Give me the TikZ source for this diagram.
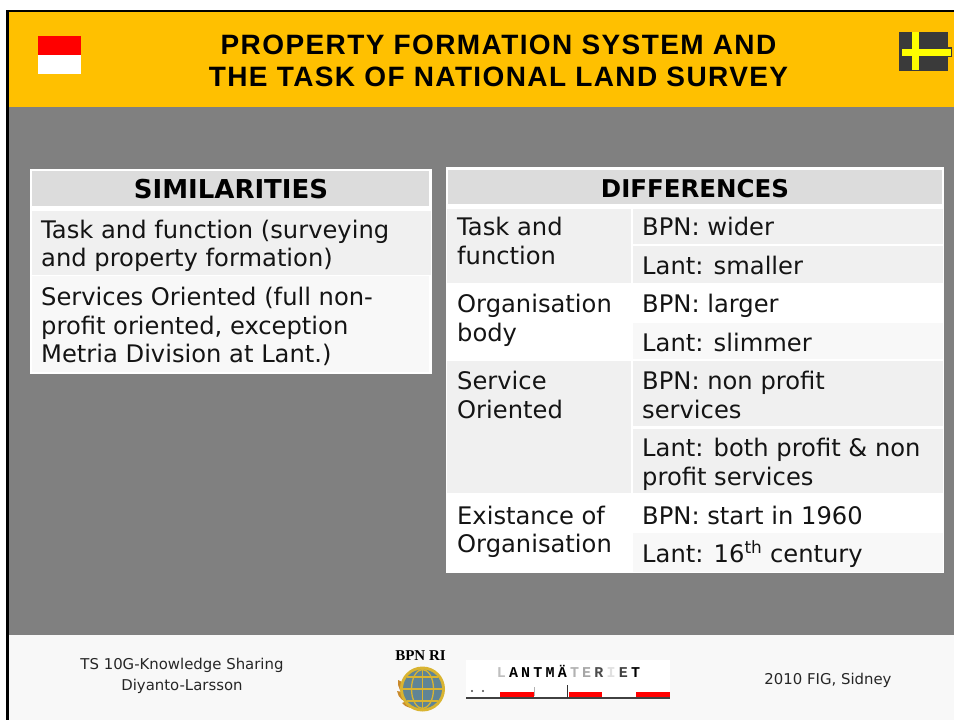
\documentclass[tikz,border=0pt]{standalone}
\usepackage{fontspec}
\setmainfont{DejaVu Sans}
\newfontfamily\titlefont{Liberation Sans}[LetterSpace=5]
\newfontfamily\footfont{Liberation Serif}
\newfontfamily\logofont{Liberation Mono}
\newcommand\lmch[2]{\makebox[12.2pt]{\textcolor{black!#1}{#2}}}
\definecolor{gold}{HTML}{FFC000}
\definecolor{slate}{HTML}{808080}
\definecolor{headgray}{HTML}{DCDCDC}
\definecolor{rowa}{HTML}{F0F0F0}
\definecolor{rowb}{HTML}{F8F8F8}
\definecolor{flagdark}{HTML}{3A3A3A}
\definecolor{flagyel}{HTML}{FFFF00}
\definecolor{globeblue}{HTML}{5F8496}
\definecolor{globegold}{HTML}{D9B431}
\definecolor{leaf}{HTML}{C98A2C}
\tikzset{
  x=1pt,y=-1pt,
  bodytext/.style={anchor=base west,inner sep=0pt,align=left,font=\fontsize{24.2}{28.7}\selectfont,text=black!92},
  headtext/.style={anchor=base,inner sep=0pt,font=\fontsize{#1}{29}\selectfont\bfseries,text=black},
  titletext/.style={anchor=base,inner sep=0pt,font=\titlefont\fontsize{28}{32}\selectfont\bfseries,text=black},
  foottext/.style={anchor=base,inner sep=0pt,align=center,font=\fontsize{14.9}{21}\selectfont,text=black!85},
  leafshape/.style={fill=leaf,draw=none},
}
\begin{document}
\begin{tikzpicture}
\useasboundingbox (0,0) rectangle (954,720);
\fill[white] (0,0) rectangle (954,720);
% slide
\fill[black] (6.3,9.5) rectangle (954,720);
\fill[slate] (8.7,12) rectangle (954,635);
\fill[gold] (8.7,12) rectangle (954,107);
\fill[rowb] (8.7,635) rectangle (954,720);
% flags
\fill[red] (38,36) rectangle (81,55);
\fill[white] (38,55) rectangle (81,74);
\fill[flagdark] (899,32) rectangle (948,70.7);
\fill[flagdark] (901,47) rectangle (951.5,56.7);
\fill[flagyel] (912,32) rectangle (919.3,70);
\fill[flagyel] (902,48.7) rectangle (951,56);
% title
\node[titletext] (t1) at (498.5,54) {PROPERTY FORMATION SYSTEM AND};
\node[titletext] (t2) at (498.5,86) {THE TASK OF NATIONAL LAND SURVEY};
% similarities
\fill[white] (29.5,169) rectangle (431.5,373.5);
\fill[headgray] (32,171) rectangle (429,206);
\fill[rowa] (32,211) rectangle (431,275);
\fill[rowb] (32,276) rectangle (429,372);
\node[headtext=26] (simh) at (231,198) {SIMILARITIES};
\node[bodytext] (sim1) at (41,266.7) {Task and function (surveying\\and property formation)};
\node[bodytext] (sim2) at (41,362.7) {Services Oriented (full non-\\profit oriented, exception\\Metria Division at Lant.)};
% differences
\fill[white] (446,167) rectangle (944,573);
\fill[headgray] (448,169.5) rectangle (941.5,204);
\fill[rowa] (447,209) rectangle (630.5,282.5);
\fill[rowa] (632.5,209) rectangle (943,244);
\fill[rowa] (632.5,246) rectangle (943,282.5);
\fill[rowb] (632.5,323) rectangle (943,359);
\fill[rowa] (447,361) rectangle (630.5,493);
\fill[rowa] (632.5,361) rectangle (943,426);
\fill[rowa] (632.5,429) rectangle (943,493);
\fill[rowb] (632.5,533) rectangle (943,572);
\node[headtext=24.5] (difh) at (695,197) {DIFFERENCES};
\node[bodytext] (d1) at (457,264) {Task and\\function};
\node[bodytext] (d2) at (457,341.5) {Organisation\\body};
\node[bodytext] (d3) at (457,418) {Service\\Oriented};
\node[bodytext] (d4) at (457,552.7) {Existance of\\Organisation};
\node[bodytext] (e1) at (642,235) {BPN: wider};
\node[bodytext] (e2) at (642,274) {Lant: smaller};
\node[bodytext] (e3) at (642,312.7) {BPN: larger};
\node[bodytext] (e4) at (642,351) {Lant: slimmer};
\node[bodytext] (e5) at (642,418) {BPN: non profit\\services};
\node[bodytext] (e6) at (642,485.5) {Lant: both profit \& non\\profit services};
\node[bodytext] (e7) at (642,524) {BPN: start in 1960};
\node[bodytext] (e8) at (642,562.5) {Lant: 16\textsuperscript{th} century};
% footer
\node[foottext] (f1) at (182,690) {TS 10G-Knowledge Sharing\\Diyanto-Larsson};
\node[foottext] (f2) at (828,684) {2010 FIG, Sidney};
\node[anchor=base,inner sep=0pt,font=\footfont\fontsize{15}{15}\selectfont\bfseries] (bpn) at (420.5,660) {BPN RI};
% emblem
\fill[leafshape] (398,680) .. controls (406,683) and (409,690) .. (407,696) .. controls (401,694) and (397,687) .. (398,680);
\fill[leafshape] (397,691) .. controls (403,691) and (409,696) .. (411,702) .. controls (404,703) and (398,698) .. (397,691);
\fill[leafshape] (402,703) .. controls (407,700) and (413,701) .. (417,706) .. controls (412,709) and (406,708) .. (402,703);
\fill[globegold] (422.5,689) circle (22.5);
\fill[globeblue] (422.5,689) circle (19.5);
\begin{scope}[globegold,line width=1.3pt]
\draw (403,689) -- (442,689);
\draw (422.5,669.5) -- (422.5,708.5);
\draw (422.5,689) ellipse (11 and 19.5);
\draw (407,677) -- (438,677);
\draw (407,701) -- (438,701);
\end{scope}
% Lantmateriet logo
\fill[white] (466,660) rectangle (670,698);
\fill[black!75] (466,696.5) rectangle (670,698.5);
\fill[red] (500,692) rectangle (534,697);
\fill[red] (569,692) rectangle (602,697);
\fill[red] (636,692) rectangle (670,697);
\fill[black!80] (567,685) rectangle (568.3,698);
\fill[black!30] (533.6,687) rectangle (534.4,696);
\fill[black!70] (472,691) circle (1.2);
\fill[black!70] (483,691) circle (1.2);
\node[anchor=base west,inner sep=0pt,font=\logofont\fontsize{15}{15}\selectfont\bfseries,text=black] (lm) at (495,677) {\lmch{25}{L}\lmch{100}{A}\lmch{100}{N}\lmch{100}{T}\lmch{100}{M}\lmch{100}{Ä}\lmch{30}{T}\lmch{35}{E}\lmch{70}{R}\lmch{12}{I}\lmch{75}{E}\lmch{100}{T}};
\end{tikzpicture}
\end{document}
